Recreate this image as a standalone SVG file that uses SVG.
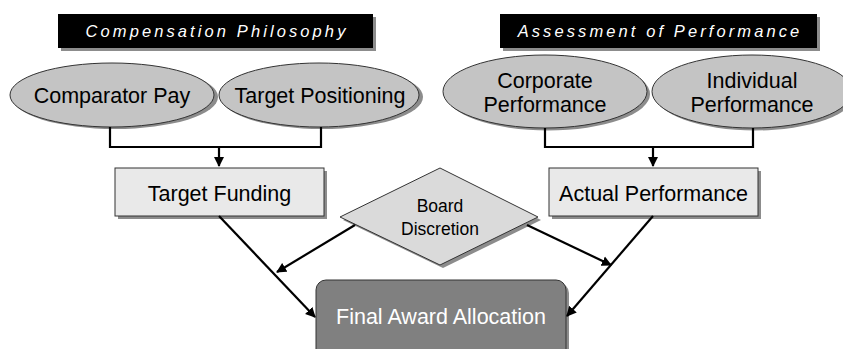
<svg xmlns="http://www.w3.org/2000/svg" width="843" height="349" viewBox="0 0 843 349">
<style>
text{font-family:"Liberation Sans",Arial,sans-serif;text-anchor:middle;}
.title{font-size:16.5px;font-style:italic;fill:#fff;letter-spacing:3.1px;}
.lbl{font-size:21.5px;fill:#000;}
.sm{font-size:17.5px;fill:#000;}
.shadow{fill:#8c8c8c;}
.ell{fill:#c4c4c4;stroke:#333;stroke-width:1;}
.box{fill:#e9e9e9;stroke:#333;stroke-width:1;}
.dia{fill:#dadada;stroke:#333;stroke-width:1;}
.fin{fill:#808080;stroke:#333;stroke-width:1;}
.conn{fill:none;stroke:#000;stroke-width:2.2;}
</style>
<defs>
<marker id="ah" viewBox="0 0 10 10" refX="9" refY="5" markerWidth="4.6" markerHeight="5.2" orient="auto" markerUnits="strokeWidth">
<path d="M0,0 L10,5 L0,10 z" fill="#000"/>
</marker>
</defs>
<rect width="843" height="349" fill="#fff"/>

<g id="title-compensation">
<rect class="shadow" x="61" y="17" width="315" height="34"/>
<rect x="58" y="14" width="315" height="34" fill="#000"/>
<text class="title" x="217" y="37">Compensation Philosophy</text>
</g>
<g id="title-assessment">
<rect class="shadow" x="503" y="17" width="317" height="34"/>
<rect x="500" y="14" width="317" height="34" fill="#000"/>
<text class="title" x="660" y="37">Assessment of Performance</text>
</g>

<g id="comparator-pay">
<ellipse class="shadow" cx="115" cy="97" rx="103" ry="32"/>
<ellipse class="ell" cx="112" cy="95" rx="102" ry="32"/>
<text class="lbl" x="112" y="102.5">Comparator Pay</text>
</g>
<g id="target-positioning">
<ellipse class="shadow" cx="322" cy="97" rx="101" ry="32"/>
<ellipse class="ell" cx="319" cy="95" rx="100" ry="32"/>
<text class="lbl" x="320" y="102.5">Target Positioning</text>
</g>
<g id="corporate-performance">
<ellipse class="shadow" cx="548" cy="94" rx="102" ry="36.5"/>
<ellipse class="ell" cx="545" cy="91.5" rx="102" ry="36.5"/>
<text class="lbl" x="545" y="88">Corporate</text>
<text class="lbl" x="545" y="112">Performance</text>
</g>
<g id="individual-performance">
<ellipse class="shadow" cx="755" cy="94" rx="100" ry="36.5"/>
<ellipse class="ell" cx="752" cy="91.5" rx="100" ry="36.5"/>
<text class="lbl" x="752" y="88">Individual</text>
<text class="lbl" x="752" y="112">Performance</text>
</g>

<g id="target-funding">
<rect class="shadow" x="118" y="171" width="209" height="48"/>
<rect class="box" x="115" y="168" width="209" height="48"/>
<text class="lbl" x="219.5" y="200.5">Target Funding</text>
</g>
<g id="actual-performance">
<rect class="shadow" x="552" y="171" width="209" height="48"/>
<rect class="box" x="549" y="168" width="209" height="48"/>
<text class="lbl" x="653.5" y="200.5">Actual Performance</text>
</g>

<g id="board-discretion">
<polygon class="shadow" points="343,220 443,171 541,220 443,268"/>
<polygon class="dia" points="340,217 440,168 538,217 440,265"/>
<text class="sm" x="440" y="212">Board</text>
<text class="sm" x="440" y="235">Discretion</text>
</g>

<g id="final-award-allocation">
<rect class="shadow" x="319" y="283" width="250" height="90" rx="10"/>
<rect class="fin" x="316" y="280" width="250" height="90" rx="10"/>
<text class="lbl" x="441" y="323.5" style="fill:#fff">Final Award Allocation</text>
</g>

<g id="connectors">
<path class="conn" d="M110,127 V147 H321 V127"/>
<path class="conn" d="M219,147 V166" marker-end="url(#ah)"/>
<path class="conn" d="M545,128 V147 H753 V128"/>
<path class="conn" d="M653,147 V166" marker-end="url(#ah)"/>
<path class="conn" d="M219,216 L315,317" marker-end="url(#ah)"/>
<path class="conn" d="M355,225 L277,272" marker-end="url(#ah)"/>
<path class="conn" d="M527,225 L611,265" marker-end="url(#ah)"/>
<path class="conn" d="M653,216 L567,316" marker-end="url(#ah)"/>
</g>
</svg>
